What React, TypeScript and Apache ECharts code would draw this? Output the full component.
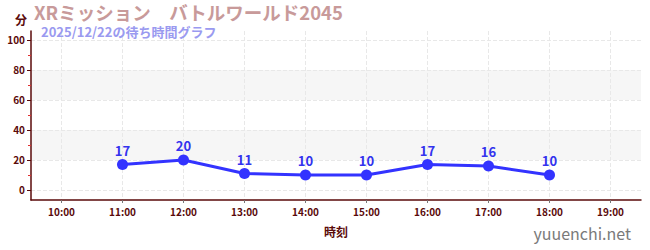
import React, { useEffect, useRef } from "react";
import * as echarts from "echarts";

const categories = ["10:00", "11:00", "12:00", "13:00", "14:00", "15:00", "16:00", "17:00", "18:00", "19:00"];
const waitTimes: (number | null)[] = [null, 17, 20, 11, 10, 10, 17, 16, 10, null];
const yMajorTicks = [0, 20, 40, 60, 80, 100];
const yMinorTicks = [10, 30, 50, 70, 90];
const titleText = "XRミッション　バトルワールド2045";
const subtitleText = "2025/12/22の待ち時間グラフ";

const hours = categories.map((c) => parseInt(c, 10));

export default function App() {
  const ref = useRef<HTMLDivElement>(null);
  useEffect(() => {
    if (!ref.current) return;
    const chart = echarts.init(ref.current, null, { renderer: "svg" });
    const font = "'Noto Sans CJK JP', 'Noto Sans', sans-serif";
    const axisColor = "#5a0a0a";
    chart.setOption({
      animation: false,
      textStyle: { fontFamily: font },
      title: [
        {
          text: titleText,
          left: 29,
          top: 0,
          padding: [3, 5, 0, 5],
          textStyle: { color: "#c89a9a", fontSize: 18.5, lineHeight: 18, fontWeight: "bold", fontFamily: font },
        },
        {
          text: subtitleText,
          left: 36,
          top: 24,
          padding: [0, 5, 0, 5],
          textStyle: { color: "#9a9af0", fontSize: 13, lineHeight: 14, fontWeight: "bold", fontFamily: font },
        },
        {
          text: "yuuenchi.net",
          right: 14,
          bottom: 4,
          textStyle: { color: "#7a7a7a", fontSize: 16, fontWeight: "normal", fontFamily: font },
        },
      ],
      grid: { left: 31, right: 9, top: 31, bottom: 50 },
      xAxis: {
        type: "value",
        min: 9.5,
        max: 19.5,
        name: "時刻",
        nameLocation: "middle",
        nameGap: 25,
        nameTextStyle: { color: axisColor, fontSize: 12, fontWeight: "bold", fontFamily: font },
        axisLine: { onZero: false, lineStyle: { color: axisColor, width: 1.5 } },
        axisTick: { show: true, customValues: hours, length: 3, lineStyle: { color: "#777" } },
        axisLabel: {
          customValues: hours,
          color: axisColor,
          fontSize: 10,
          fontWeight: "bold",
          margin: 6,
          formatter: (v: number) => categories[hours.indexOf(v)] ?? "",
        },
        splitLine: { show: true, lineStyle: { color: "#e8e8e8", type: "dashed" } },
      },
      yAxis: [
        {
          type: "value",
          min: -6.67,
          max: 106,
          name: "分",
          nameLocation: "end",
          nameGap: 6,
          nameTextStyle: { color: axisColor, fontSize: 12, fontWeight: "bold", align: "right", padding: [0, 4, 0, 0] },
          axisLine: { show: true, onZero: false, lineStyle: { color: axisColor, width: 1.5 } },
          axisTick: { show: true, customValues: yMajorTicks, length: 4, lineStyle: { color: axisColor } },
          axisLabel: { customValues: yMajorTicks, color: axisColor, fontSize: 10, fontWeight: "bold", margin: 6 },
          splitLine: { show: true, lineStyle: { color: "#e8e8e8", type: "dashed" } },
          splitArea: { show: true, areaStyle: { color: ["rgba(255,255,255,0)", "#f6f6f6"] } },
        },
        {
          type: "value",
          min: -6.67,
          max: 106,
          position: "left",
          axisLine: { show: false },
          axisTick: { show: true, customValues: yMinorTicks, length: 3, lineStyle: { color: "#e03030" } },
          axisLabel: { show: false },
          splitLine: { show: false },
        },
      ],
      series: [
        {
          type: "line",
          data: hours.map((h, i) => [h, waitTimes[i]]),
          connectNulls: false,
          symbol: "circle",
          symbolSize: 11,
          lineStyle: { color: "#3333ff", width: 3 },
          itemStyle: { color: "#3333ff" },
          label: { show: true, position: "top", color: "#3333ee", fontSize: 13, fontWeight: "bold", distance: 2 },
        },
      ],
    });
    return () => chart.dispose();
  }, []);
  return <div ref={ref} style={{ width: 650, height: 250, position: "absolute", left: 0, top: 0 }} />;
}
